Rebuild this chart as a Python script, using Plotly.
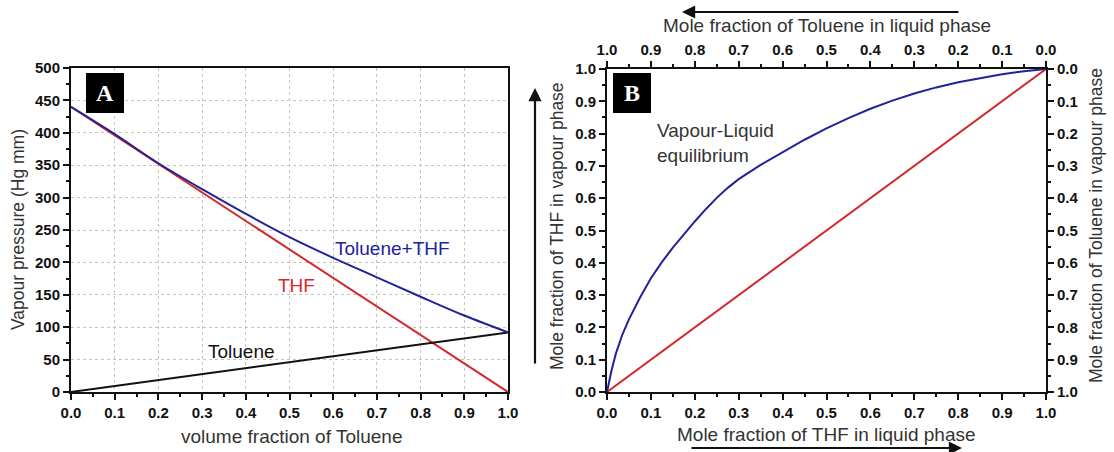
import plotly.graph_objects as go

W, H = 1114, 452

# ---------------- data: panel A ----------------
vol_frac_toluene = [0.0, 0.1, 0.2, 0.3, 0.4, 0.5, 0.6, 0.7, 0.8, 0.9, 1.0]
p_thf = [440, 396, 352, 308, 264, 220, 176, 132, 88, 44, 0]
p_toluene = [0, 9.2, 18.4, 27.6, 36.8, 46, 55.2, 64.4, 73.6, 82.8, 92]
p_total = [440, 398, 353, 313, 275, 239, 207, 177, 147, 118, 92]

# ---------------- data: panel B ----------------
x_thf_liquid = [0.0, 0.01, 0.02, 0.035, 0.05, 0.075, 0.1, 0.125, 0.15, 0.175, 0.2, 0.225,
                0.25, 0.275, 0.3, 0.35, 0.4, 0.45, 0.5, 0.55, 0.6, 0.65, 0.7, 0.75,
                0.8, 0.85, 0.9, 0.95, 1.0]
y_thf_vapour = [0.0, 0.065, 0.118, 0.178, 0.225, 0.292, 0.352, 0.402, 0.447, 0.489, 0.528, 0.566,
                0.601, 0.632, 0.659, 0.703, 0.743, 0.781, 0.816, 0.848, 0.877, 0.902, 0.924, 0.943,
                0.959, 0.972, 0.984, 0.993, 1.0]
diag = [0.0, 1.0]

tick01 = [0.0, 0.1, 0.2, 0.3, 0.4, 0.5, 0.6, 0.7, 0.8, 0.9, 1.0]
tick_p = [0, 50, 100, 150, 200, 250, 300, 350, 400, 450, 500]

BLUE = "#22229a"
RED = "#d22a2a"
BLACK = "#111111"
TXT = "#333333"
FONT = "Liberation Sans"

def px(x):
    return x / W

def py(y):
    return 1 - y / H

fig = go.Figure()

# Panel A
fig.add_trace(go.Scatter(x=vol_frac_toluene, y=p_thf, mode="lines",
                         line=dict(color=RED, width=2), xaxis="x", yaxis="y", showlegend=False))
fig.add_trace(go.Scatter(x=vol_frac_toluene, y=p_toluene, mode="lines",
                         line=dict(color=BLACK, width=2), xaxis="x", yaxis="y", showlegend=False))
fig.add_trace(go.Scatter(x=vol_frac_toluene, y=p_total, mode="lines", line_shape="spline",
                         line=dict(color=BLUE, width=2), xaxis="x", yaxis="y", showlegend=False))

# Panel B
fig.add_trace(go.Scatter(x=diag, y=diag, mode="lines",
                         line=dict(color=RED, width=2), xaxis="x2", yaxis="y2", showlegend=False))
fig.add_trace(go.Scatter(x=x_thf_liquid, y=y_thf_vapour, mode="lines",
                         line=dict(color=BLUE, width=2), xaxis="x2", yaxis="y2", showlegend=False))
# invisible trace to activate the secondary (top/right) axes
fig.add_trace(go.Scatter(x=[0.5], y=[0.5], mode="markers", marker=dict(opacity=0),
                         hoverinfo="skip", xaxis="x3", yaxis="y4", showlegend=False))

tickfont = dict(family=FONT, size=15, color=BLACK, weight="bold")

def ax_common(**kw):
    d = dict(showline=True, linewidth=2, linecolor=BLACK, ticks="outside", ticklen=6,
             tickwidth=1.5, tickcolor=BLACK, zeroline=False, tickfont=tickfont,
             fixedrange=True, automargin=False)
    d.update(kw)
    return d

minor01 = dict(ticks="outside", dtick=0.05, ticklen=3, tickwidth=1.5, tickcolor=BLACK,
               showgrid=False)

yA0, yA1 = py(392), py(68)
yB0, yB1 = py(392), py(69)

fig.update_layout(
    width=W, height=H,
    margin=dict(l=0, r=0, t=0, b=0, autoexpand=False),
    paper_bgcolor="white", plot_bgcolor="white",
    showlegend=False,
    xaxis=ax_common(domain=[px(71), px(508)], anchor="y", range=[0, 1], tickvals=tick01,
                    tickformat=".1f", mirror=True, showgrid=True, gridcolor="#c4c4c4",
                    griddash="dot", gridwidth=1, minor=minor01),
    yaxis=ax_common(domain=[yA0, yA1], anchor="x", range=[0, 500], tickvals=tick_p,
                    mirror=True, showgrid=True, gridcolor="#c4c4c4", griddash="dot",
                    gridwidth=1,
                    minor=dict(ticks="outside", dtick=25, ticklen=3, tickwidth=1.5,
                               tickcolor=BLACK, showgrid=False)),
    xaxis2=ax_common(domain=[px(607), px(1046)], anchor="y2", range=[0, 1], tickvals=tick01,
                     tickformat=".1f", showgrid=False, minor=minor01),
    yaxis2=ax_common(domain=[yB0, yB1], anchor="x2", range=[0, 1], tickvals=tick01,
                     tickformat=".1f", showgrid=False, minor=minor01),
    xaxis3=ax_common(overlaying="x2", side="top", anchor="y2", range=[1, 0],
                     tickvals=tick01, tickformat=".1f", showgrid=False, minor=minor01),
    yaxis4=ax_common(overlaying="y2", side="right", anchor="x2", range=[1, 0],
                     tickvals=tick01, tickformat=".1f", showgrid=False, minor=minor01),
)

hfont = dict(family=FONT, size=19, color=TXT)
vfont = dict(family=FONT, size=17.5, color=TXT)
ann = []

# Axis titles panel A
ann.append(dict(text="Vapour pressure (Hg mm)", x=px(18), y=py(230), xref="paper", yref="paper",
                textangle=-90, showarrow=False, font=vfont, xanchor="center", yanchor="middle"))
ann.append(dict(text="volume fraction of Toluene", x=px(291), y=py(436), xref="paper", yref="paper",
                showarrow=False, font=hfont, xanchor="center", yanchor="middle"))

# Series labels panel A
ann.append(dict(text="Toluene+THF", x=0.735, y=221, xref="x", yref="y", showarrow=False,
                font=dict(family=FONT, size=19, color=BLUE)))
ann.append(dict(text="THF", x=0.517, y=165, xref="x", yref="y", showarrow=False,
                font=dict(family=FONT, size=19, color=RED)))
ann.append(dict(text="Toluene", x=0.39, y=62, xref="x", yref="y", showarrow=False,
                font=dict(family=FONT, size=19, color=BLACK)))

# Panel letters
for letter, x0, x1 in (("A", 86, 124), ("B", 613, 651)):
    fig.add_shape(type="rect", xref="paper", yref="paper", x0=px(x0), x1=px(x1),
                  y0=py(113), y1=py(73), fillcolor="black", line=dict(width=0))
    ann.append(dict(text="<b>%s</b>" % letter, x=px((x0 + x1) / 2), y=py(93), xref="paper",
                    yref="paper", showarrow=False, xanchor="center", yanchor="middle",
                    font=dict(family="Liberation Serif", size=24, color="white")))

# Panel B titles
ann.append(dict(text="Mole fraction of Toluene in liquid phase", x=px(827), y=py(26),
                xref="paper", yref="paper", showarrow=False, font=hfont,
                xanchor="center", yanchor="middle"))
ann.append(dict(text="Mole fraction of THF in liquid phase", x=px(826), y=py(434),
                xref="paper", yref="paper", showarrow=False, font=hfont,
                xanchor="center", yanchor="middle"))
ann.append(dict(text="Mole fraction of THF in vapour phase", x=px(557), y=py(226),
                xref="paper", yref="paper", showarrow=False, font=vfont, textangle=-90,
                xanchor="center", yanchor="middle"))
ann.append(dict(text="Mole fraction of Toluene in vapour phase", x=px(1096), y=py(226),
                xref="paper", yref="paper", showarrow=False, font=vfont, textangle=-90,
                xanchor="center", yanchor="middle"))
ann.append(dict(text="Vapour-Liquid<br>equilibrium", x=px(655), y=py(143), xref="paper",
                yref="paper", showarrow=False, align="left", xanchor="left", yanchor="middle",
                font=hfont))

# Arrows
arrow = dict(xref="paper", yref="paper", axref="pixel", ayref="pixel", text="", showarrow=True,
             arrowhead=2, arrowsize=1.2, arrowwidth=2.2, arrowcolor=BLACK)
ann.append(dict(arrow, x=px(682), y=py(12), ax=278, ay=0))
ann.append(dict(arrow, x=px(962), y=py(448), ax=-272, ay=0))
ann.append(dict(arrow, x=px(535), y=py(88), ax=0, ay=277))

fig.update_layout(annotations=ann)
fig.write_html("out.html")
